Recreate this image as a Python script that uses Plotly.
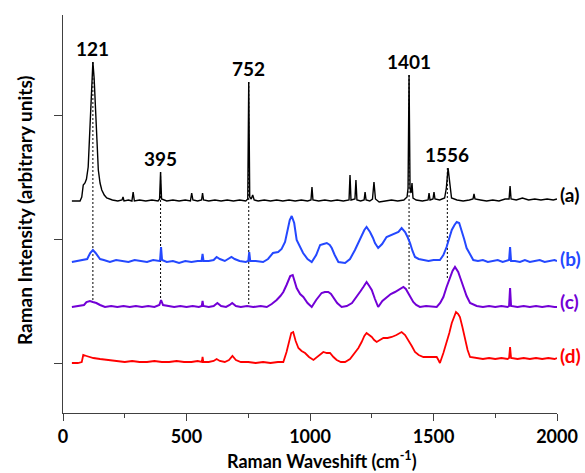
import plotly.graph_objects as go

# ---- data (x: Raman shift in cm-1, y: intensity, arbitrary units) ----
spec_a = [(36,162),(69,162),(76,166),(82,178),(89,180),(95,184),(102,196),(110,245),(116,285),(121,301),(126,285),(131,255),(136,223),(143,193),(150,180),(157,173),(167,168),(177,165),(200,163),(222,162),(239,163),(243,166),(247,162),(265,163),(279,162),(284,171),(289,162),(310,163),(335,162),(360,163),(385,162),(391,164),(395,191),(399,164),(420,162),(445,163),(470,162),(495,163),(516,162),(521,170),(526,163),(545,162),(561,163),(565,170),(569,163),(590,162),(615,163),(640,162),(665,163),(690,162),(715,163),(740,162),(748,164),(752,281),(756,166),(762,164),(768,168),(774,163),(790,162),(815,163),(840,162),(865,163),(890,162),(915,163),(940,162),(965,163),(990,162),(1004,163),(1008,176),(1012,163),(1035,162),(1060,163),(1085,162),(1110,163),(1135,162),(1158,163),(1162,188),(1166,163),(1182,164),(1186,183),(1190,163),(1205,162),(1219,163),(1223,171),(1227,163),(1242,162),(1253,164),(1259,181),(1265,164),(1280,161),(1305,162),(1330,163),(1355,162),(1380,163),(1393,166),(1397,175),(1401,288),(1405,175),(1409,170),(1413,180),(1417,165),(1430,163),(1455,162),(1478,163),(1482,170),(1486,163),(1498,164),(1502,171),(1506,164),(1525,163),(1545,165),(1552,175),(1559,195),(1566,177),(1573,165),(1595,163),(1620,162),(1645,163),(1660,164),(1664,169),(1668,164),(1690,163),(1715,162),(1740,163),(1765,162),(1790,164),(1806,164),(1810,177),(1814,164),(1835,163),(1860,165),(1885,163),(1910,164),(1935,163),(1960,164),(1985,163),(2000,164)]

spec_b = [(36,101),(60,102),(85,103),(98,104),(110,110),(121,113),(132,110),(150,104),(165,103),(190,101),(215,103),(240,102),(265,101),(290,103),(315,102),(340,101),(365,103),(390,102),(393,103),(397,116),(401,103),(420,101),(445,102),(470,100),(495,102),(520,101),(545,102),(561,102),(565,109),(569,102),(590,102),(610,103),(622,106),(635,104),(655,102),(670,104),(682,106),(695,104),(715,102),(740,101),(750,102),(754,111),(758,102),(780,102),(810,101),(830,104),(850,110),(871,111),(885,114),(899,121),(910,133),(918,143),(926,147),(936,140),(946,123),(960,115),(972,110),(990,104),(1007,101),(1025,108),(1041,118),(1055,119),(1068,120),(1080,118),(1088,115),(1100,108),(1115,101),(1142,100),(1162,104),(1182,113),(1196,120),(1209,128),(1220,133),(1229,136),(1236,134),(1243,131),(1255,125),(1263,120),(1276,115),(1292,119),(1310,126),(1327,128),(1344,130),(1358,131),(1371,135),(1378,133),(1385,131),(1395,126),(1405,120),(1415,112),(1425,106),(1440,104),(1459,103),(1480,102),(1500,103),(1526,103),(1540,108),(1553,116),(1564,125),(1574,133),(1585,138),(1594,141),(1604,140),(1614,133),(1624,124),(1634,115),(1648,108),(1661,103),(1680,102),(1700,103),(1720,101),(1740,102),(1760,103),(1780,101),(1800,102),(1806,103),(1810,116),(1814,102),(1830,102),(1850,101),(1870,103),(1890,101),(1910,102),(1930,103),(1950,101),(1970,102),(1990,103),(2000,102)]

spec_c = [(36,56),(60,57),(85,58),(95,61),(109,62),(121,61),(135,60),(150,58),(170,56),(195,57),(220,56),(245,57),(270,56),(295,57),(320,56),(345,57),(370,56),(390,58),(397,63),(405,58),(425,57),(450,56),(475,57),(500,56),(525,57),(550,56),(562,57),(565,62),(568,57),(590,56),(610,57),(625,60),(640,57),(660,56),(675,58),(685,60),(700,57),(720,56),(745,57),(770,56),(800,57),(825,56),(845,59),(865,63),(880,67),(892,71),(905,78),(912,83),(920,87),(930,88),(938,82),(946,75),(960,69),(973,66),(990,60),(1007,56),(1025,63),(1047,70),(1060,71),(1074,71),(1085,69),(1094,66),(1110,60),(1128,56),(1149,57),(1170,60),(1189,66),(1205,72),(1216,76),(1229,81),(1240,77),(1250,73),(1263,64),(1276,56),(1293,62),(1310,66),(1327,69),(1344,71),(1362,74),(1378,76),(1388,74),(1398,70),(1408,65),(1418,61),(1430,58),(1445,56),(1470,57),(1495,56),(1513,56),(1527,60),(1540,66),(1553,76),(1567,86),(1577,92),(1587,96),(1600,91),(1610,84),(1620,76),(1634,67),(1648,60),(1675,57),(1700,56),(1725,57),(1750,56),(1775,57),(1800,56),(1806,57),(1810,75),(1814,57),(1840,56),(1865,57),(1890,56),(1915,57),(1940,56),(1965,57),(1990,56),(2000,56)]

spec_d = [(36,0),(60,0),(76,1),(82,8),(95,7),(123,5),(150,4),(180,3),(217,2),(250,1),(280,2),(310,1),(340,1),(370,2),(400,1),(430,1),(460,2),(490,1),(520,1),(545,2),(562,1),(565,6),(568,1),(590,1),(610,2),(622,4),(635,2),(655,1),(672,3),(686,7),(700,3),(720,1),(750,1),(780,0),(810,1),(840,0),(870,1),(892,1),(905,11),(915,22),(924,30),(932,31),(942,22),(953,15),(966,12),(980,10),(996,6),(1014,3),(1035,7),(1054,11),(1068,10),(1081,10),(1095,6),(1108,3),(1125,1),(1142,1),(1162,4),(1182,10),(1196,15),(1209,21),(1220,27),(1229,30),(1240,28),(1250,26),(1260,23),(1270,21),(1283,23),(1297,25),(1314,25),(1331,26),(1350,28),(1371,31),(1385,28),(1398,23),(1412,17),(1425,11),(1440,8),(1459,6),(1485,6),(1513,6),(1520,3),(1526,0),(1540,10),(1553,20),(1564,30),(1574,40),(1583,47),(1591,51),(1600,49),(1607,46),(1617,36),(1628,23),(1638,13),(1648,6),(1675,5),(1700,4),(1725,5),(1750,4),(1775,5),(1800,4),(1806,5),(1810,16),(1814,5),(1840,4),(1865,5),(1890,4),(1915,5),(1940,4),(1965,5),(1990,4),(2000,5)]

series_names = ["(a)", "(b)", "(c)", "(d)"]
series_colors = ["#000000", "#2448ff", "#7200d6", "#ff0000"]
series_widths = [1.4, 2.0, 2.0, 1.8]
series_label_y = [169, 105, 62, 8]

peak_labels = ["121", "395", "752", "1401", "1556"]
peak_pos = [121, 395, 752, 1401, 1556]
peak_top = [301, 191, 281, 288, 195]
guide_bottom = [60, 61, 58, 74, 85]

x_ticks = [0, 500, 1000, 1500, 2000]
x_minor_ticks = [250, 750, 1250, 1750]
y_ticks = [0, 124, 248]

x_title = "Raman Waveshift (cm<sup>-1</sup>)"
y_title = "Raman Intensity (arbitrary units)"

FONT = "Lato"
AXIS_COL = "#404040"

fig = go.Figure()

# dotted guide lines from peaks of (a) down to (c)
for px, top, bot in zip(peak_pos, peak_top, guide_bottom):
    fig.add_trace(go.Scatter(x=[px, px], y=[top, bot], mode="lines",
                             line=dict(color="#000000", width=1, dash="2px,2px"),
                             hoverinfo="skip", showlegend=False))

for spec, name, col, w in zip([spec_a, spec_b, spec_c, spec_d], series_names,
                              series_colors, series_widths):
    xs = [p[0] for p in spec]
    ys = [p[1] for p in spec]
    fig.add_trace(go.Scatter(x=xs, y=ys, mode="lines", name=name,
                             line=dict(color=col, width=w), showlegend=False))

annotations = []
for lab, px, top in zip(peak_labels, peak_pos, peak_top):
    annotations.append(dict(x=px, y=top, text=lab, showarrow=False, xref="x", yref="y",
                            yanchor="middle", xanchor="center", yshift=14,
                            font=dict(family=FONT, size=19, color="#000000", weight="bold")))
for name, col, ly in zip(series_names, series_colors, series_label_y):
    annotations.append(dict(x=2000, y=ly, text=name, showarrow=False, xref="x", yref="y",
                            xanchor="left", yanchor="middle", xshift=1,
                            font=dict(family=FONT, size=19, color=col, weight="bold")))
annotations.append(dict(x=0.5, y=0, xref="paper", yref="paper", text=x_title, showarrow=False,
                        xanchor="center", yanchor="middle", yshift=-47, xshift=12,
                        font=dict(family=FONT, size=18, color="#000000", weight="bold")))
annotations.append(dict(x=0, y=0.5, xref="paper", yref="paper", text=y_title, showarrow=False,
                        textangle=-90, xanchor="center", yanchor="middle", xshift=-39, yshift=4,
                        font=dict(family=FONT, size=19, color="#000000", weight="bold")))

fig.update_layout(
    width=585, height=473,
    margin=dict(l=63, r=28, t=15, b=60, autoexpand=False),
    paper_bgcolor="white", plot_bgcolor="white",
    font=dict(family=FONT, size=17, color="#000000"),
    annotations=annotations,
    xaxis=dict(range=[0, 2000], tickvals=x_ticks, ticks="outside", ticklen=7, tickwidth=1.3,
               tickcolor=AXIS_COL, showline=True, linecolor=AXIS_COL, linewidth=1.3,
               showgrid=False, zeroline=False, automargin=False,
               minor=dict(tickvals=x_minor_ticks, ticks="outside", ticklen=4,
                          tickwidth=1.3, tickcolor=AXIS_COL, showgrid=False),
               tickfont=dict(family=FONT, size=18, color="#000000", weight="bold")),
    yaxis=dict(range=[-50, 348], tickvals=y_ticks, showticklabels=False, ticks="outside",
               ticklen=8, tickwidth=1.3, tickcolor=AXIS_COL, showline=True,
               linecolor=AXIS_COL, linewidth=1.3, showgrid=False, zeroline=False,
               automargin=False),
)

fig.write_html("out.html", config={"displayModeBar": False})

# remove the browser's default page margin so the figure sits at the top-left corner
with open("out.html", "r", encoding="utf-8") as fh:
    html = fh.read()
html = html.replace("<head>", "<head><style>html,body{margin:0;padding:0;overflow:hidden;}</style>", 1)
with open("out.html", "w", encoding="utf-8") as fh:
    fh.write(html)
